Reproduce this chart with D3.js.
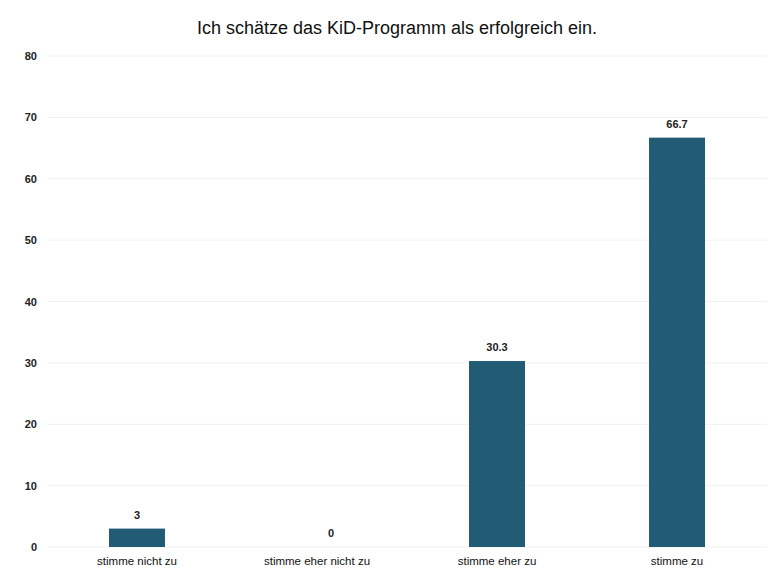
<!DOCTYPE html>
<html><head><meta charset="utf-8">
<script src="https://cdn.jsdelivr.net/npm/d3@7"></script>
<style>
html,body{margin:0;padding:0;background:#fff;}
svg{display:block;}
</style></head>
<body>
<svg id="chart" width="771" height="577"></svg>
<script>
const title = "Ich schätze das KiD-Programm als erfolgreich ein.";
const categories = ["stimme nicht zu", "stimme eher nicht zu", "stimme eher zu", "stimme zu"];
const values = [3, 0, 30.3, 66.7];
const yTicks = [0, 10, 20, 30, 40, 50, 60, 70, 80];

const svg = d3.select("#chart");
const narrow = "'Liberation Sans Narrow', 'Arial Narrow', 'Liberation Sans', sans-serif";

const x = d3.scaleBand().domain(categories).range([47, 767]).paddingInner(0.689).paddingOuter(0.3444);
const y = d3.scaleLinear().domain([0, 80]).range([547, 56]);

// gridlines
svg.append("g").selectAll("line").data(yTicks).join("line")
  .attr("x1", 47).attr("x2", 767)
  .attr("y1", d => y(d)).attr("y2", d => y(d))
  .attr("stroke", "#f0f0f0").attr("stroke-width", 1);

// y axis
const yAxis = svg.append("g").attr("transform", "translate(40,0)")
  .call(d3.axisLeft(y).tickValues(yTicks).tickSize(0).tickPadding(3));
yAxis.select(".domain").remove();
yAxis.selectAll("text").attr("font-family", narrow).attr("font-size", 11)
  .attr("font-weight", "bold").attr("fill", "#222");

// bars
svg.append("g").selectAll("rect").data(values).join("rect")
  .attr("x", (d, i) => x(categories[i]))
  .attr("width", x.bandwidth())
  .attr("y", d => y(d))
  .attr("height", d => y(0) - y(d))
  .attr("fill", "#215c74");

// value labels
svg.append("g").selectAll("text").data(values).join("text")
  .attr("x", (d, i) => x(categories[i]) + x.bandwidth() / 2 + (d === 0 ? 14 : 0))
  .attr("y", d => y(d) - 10)
  .attr("text-anchor", "middle")
  .attr("font-family", "'Liberation Sans', Arial, sans-serif")
  .attr("font-size", 11).attr("font-weight", "bold").attr("fill", "#222")
  .text(d => d);

// x axis labels
const xAxis = svg.append("g").attr("transform", "translate(0,547)")
  .call(d3.axisBottom(x).tickSize(0).tickPadding(10));
xAxis.select(".domain").remove();
xAxis.selectAll("text").attr("font-family", narrow).attr("font-size", 11.5).attr("fill", "#111");

// title
svg.append("text").attr("x", 397).attr("y", 34).attr("text-anchor", "middle")
  .attr("font-family", narrow).attr("font-size", 18).attr("fill", "#111")
  .text(title);
</script>
</body></html>
